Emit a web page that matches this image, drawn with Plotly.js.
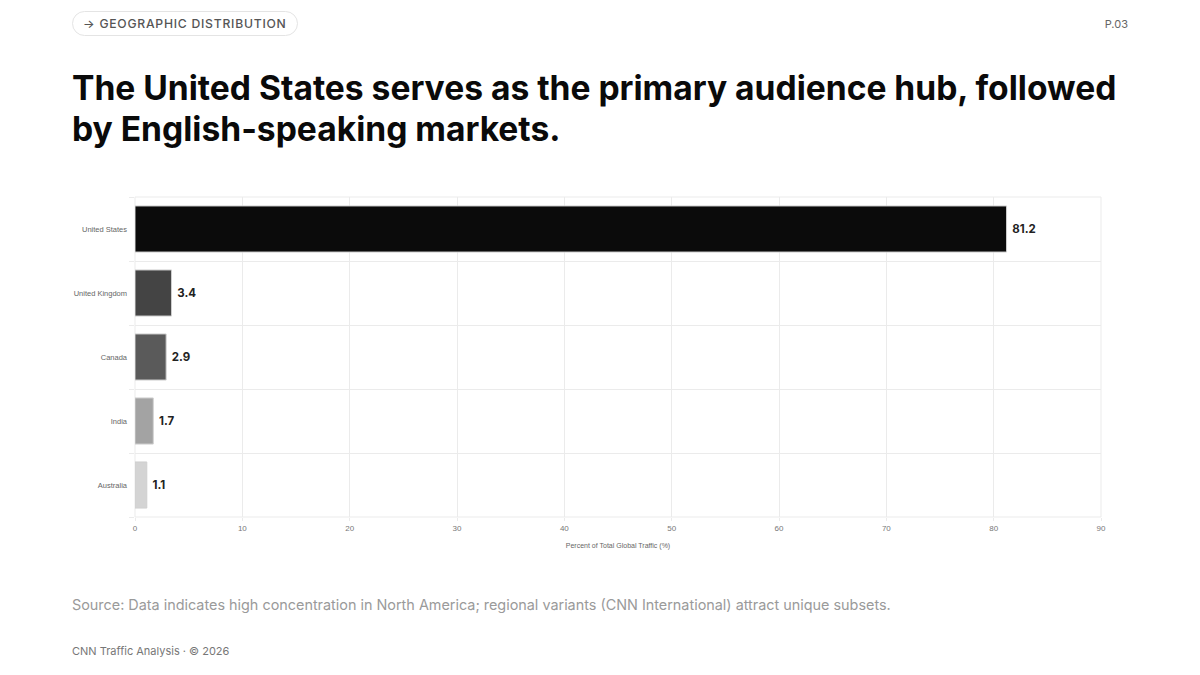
<!DOCTYPE html>
<html>
<head>
<meta charset="utf-8">
<script src="https://cdn.plot.ly/plotly-3.0.1.min.js"></script>
<style>
    body { margin: 0; width: 1200px; height: 675px; background: #fff; font-family: Inter, sans-serif; position: relative; overflow: hidden; }
    .tag { position: absolute; left: 72px; top: 11px; height: 23px; padding: 0 10px; border: 1px solid #e4e4e4; border-radius: 13px; font-size: 12.2px; letter-spacing: 0.75px; color: #555; line-height: 23px; font-weight: 500; }
    .page { position: absolute; right: 72px; top: 17px; font-size: 11px; color: #666; }
    h1 { position: absolute; left: 72px; top: 67px; margin: 0; font-size: 33.6px; line-height: 41px; font-weight: 700; color: #0a0a0a; width: 1070px; }
    #chart { position: absolute; left: 60px; top: 180px; width: 1080px; height: 400px; }
    .source { position: absolute; left: 72px; top: 596px; font-size: 14.4px; color: #9a9a9a; }
    .footer { position: absolute; left: 72px; top: 644px; font-size: 11px; color: #777; }
</style>
</head>
<body>
<div class="tag">→ GEOGRAPHIC DISTRIBUTION</div>
<div class="page">P.03</div>
<h1>The United States serves as the primary audience hub, followed by English-speaking markets.</h1>
<div id="chart"></div>
<div class="source">Source: Data indicates high concentration in North America; regional variants (CNN International) attract unique subsets.</div>
<div class="footer">CNN Traffic Analysis · © 2026</div>
<script>
// countries top to bottom and their share of traffic
const countries = ['United States', 'United Kingdom', 'Canada', 'India', 'Australia'];
const shares = [81.2, 3.4, 2.9, 1.7, 1.1];
const barColors = ['#0b0b0b', '#444444', '#5a5a5a', '#a3a3a3', '#d4d4d4'];
const xTicks = [0, 10, 20, 30, 40, 50, 60, 70, 80, 90];

document.addEventListener('DOMContentLoaded', function () {
    // numeric y positions so the grid can sit between the bars
    const yPos = countries.map((c, i) => i);

    const trace = {
        type: 'bar',
        orientation: 'h',
        x: shares,
        y: yPos,
        width: 0.72,
        marker: { color: barColors, line: { color: '#cfcfcf', width: 1 } },
        text: shares.map(v => '\u00a0' + v.toFixed(1)),
        textposition: 'outside',
        cliponaxis: false,
        textfont: { family: 'Inter, sans-serif', size: 11.5, color: '#222', weight: 700 },
        hoverinfo: 'skip'
    };

    const layout = {
        margin: { l: 75, r: 39, t: 17, b: 63 },
        paper_bgcolor: '#fff',
        plot_bgcolor: '#fff',
        showlegend: false,
        font: { family: 'Liberation Sans, Arial, sans-serif', size: 7, color: '#666' },
        xaxis: {
            range: [0, 90],
            tickvals: xTicks,
            showgrid: true,
            gridcolor: '#ebebeb',
            zeroline: false,
            showline: false,
            ticks: 'outside',
            ticklen: 3,
            tickcolor: '#ebebeb',
            tickfont: { size: 8, color: '#777' },
            title: { text: 'Percent of Total Global Traffic (%)', font: { size: 7, color: '#666' }, standoff: 11 },
            fixedrange: true
        },
        yaxis: {
            range: [4.5, -0.5],
            tickvals: yPos,
            ticktext: countries,
            showgrid: false,
            zeroline: false,
            showline: false,
            ticks: '',
            ticklabelstandoff: 7,
            tickfont: { size: 7.5, color: '#666' },
            minor: { tick0: 0.5, dtick: 1, showgrid: true, gridcolor: '#ebebeb', ticks: 'outside', ticklen: 5, tickcolor: '#ebebeb' },
            fixedrange: true
        },
        shapes: [
            { type: 'rect', xref: 'paper', yref: 'paper', x0: 0, x1: 1, y0: 0, y1: 1, line: { color: '#ebebeb', width: 1 }, layer: 'below' }
        ]
    };

    Plotly.newPlot('chart', [trace], layout, { displayModeBar: false, staticPlot: true });
});
</script>
</body>
</html>
